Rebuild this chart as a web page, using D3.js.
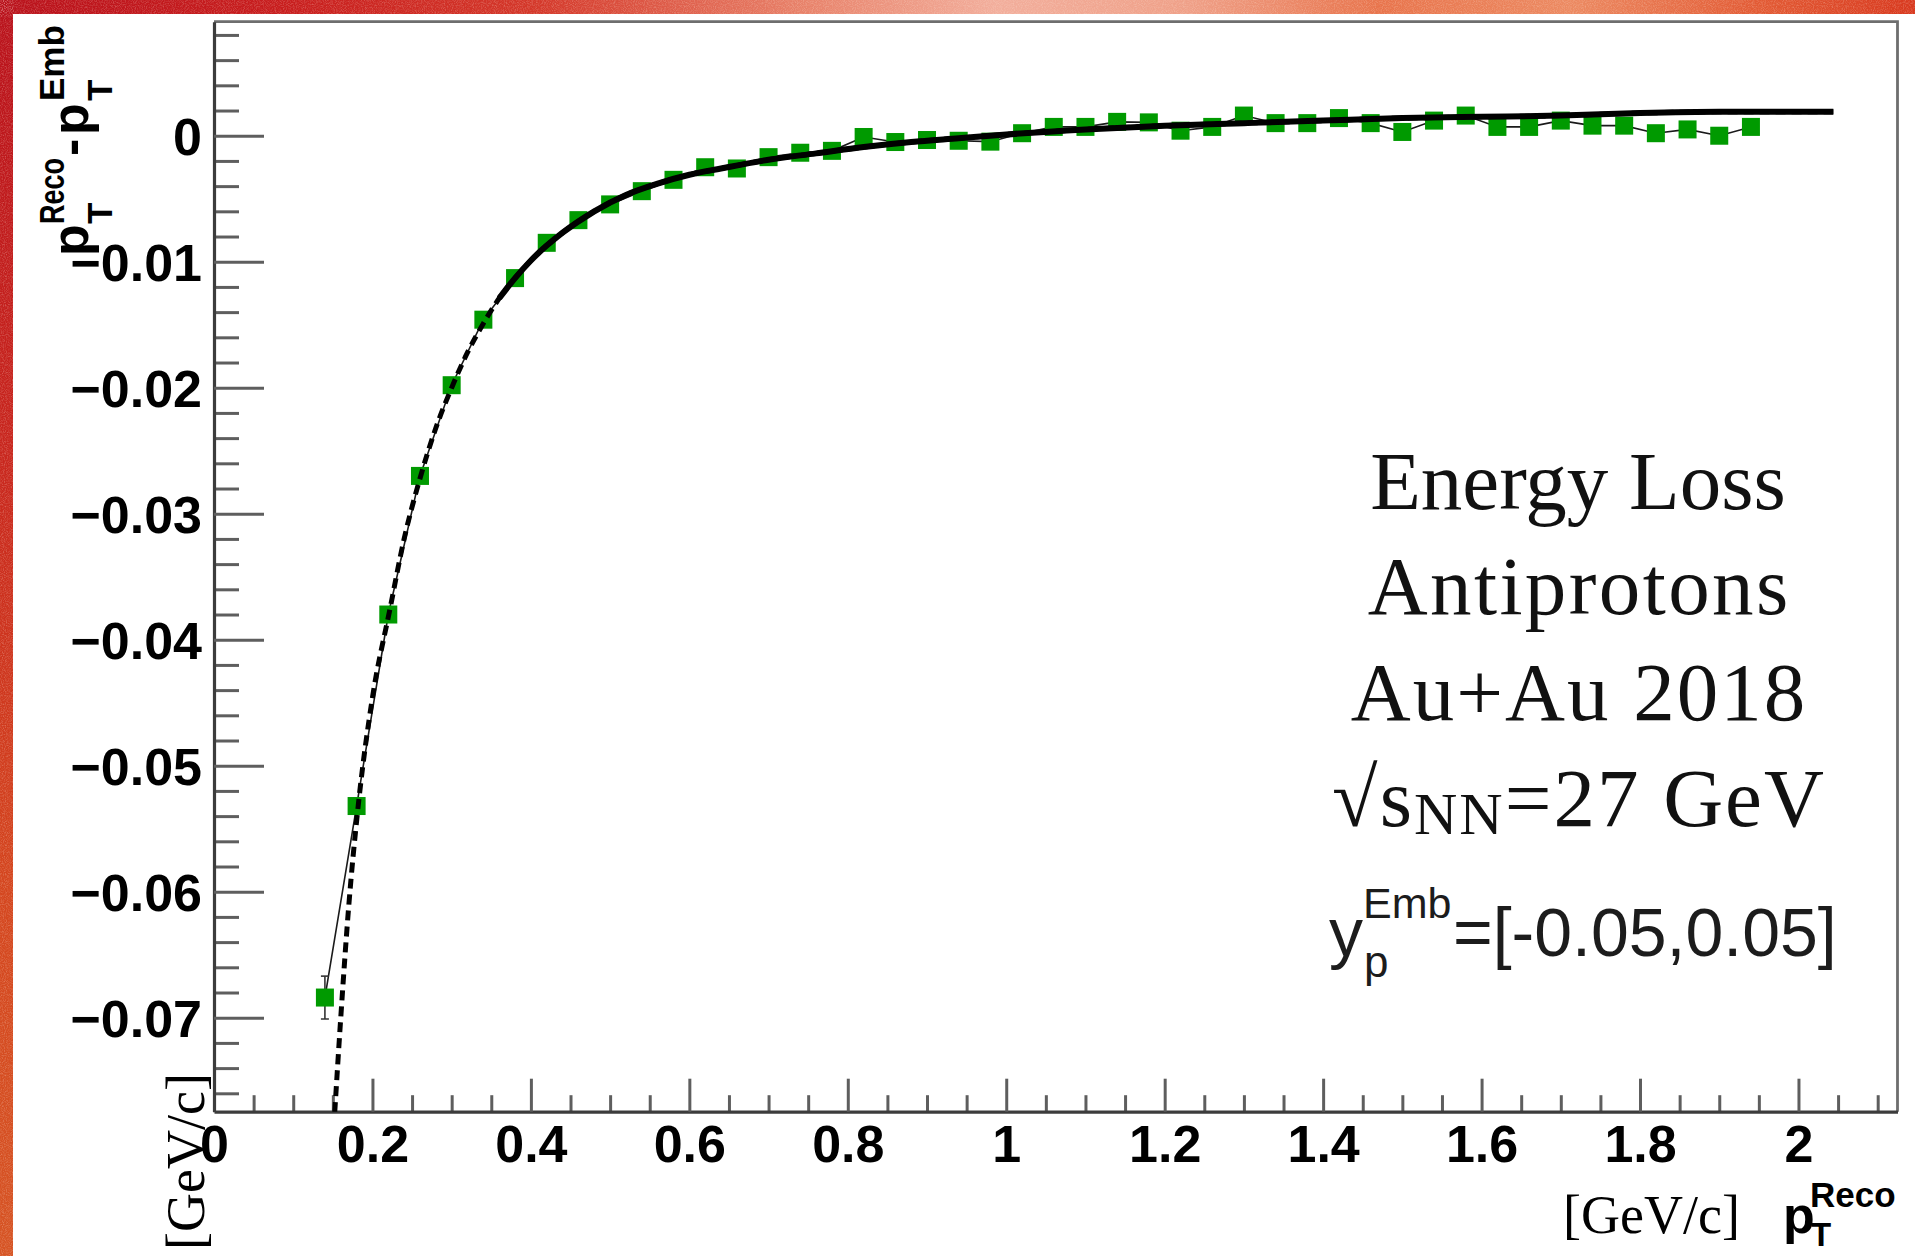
<!DOCTYPE html>
<html><head><meta charset="utf-8">
<script src="https://cdn.jsdelivr.net/npm/d3@7"></script>
<style>
html,body{margin:0;padding:0;background:#fff;}
svg{display:block;}
</style></head>
<body>
<svg id="chart" width="1915" height="1256"></svg>
<script>
// ---------------- data ----------------
const ptReco = [0.14,0.18,0.22,0.26,0.30,0.34,0.38,0.42,0.46,0.50,0.54,0.58,0.62,0.66,0.70,0.74,0.78,0.82,0.86,0.90,0.94,0.98,1.02,1.06,1.10,1.14,1.18,1.22,1.26,1.30,1.34,1.38,1.42,1.46,1.50,1.54,1.58,1.62,1.66,1.70,1.74,1.78,1.82,1.86,1.90,1.94];
const dPt = [-0.0684,-0.0532,-0.0380,-0.0270,-0.0198,-0.0146,-0.0113,-0.0085,-0.0067,-0.00545,-0.0044,-0.0035,-0.0025,-0.0026,-0.0017,-0.00135,-0.0012,-0.0001,-0.0005,-0.00034,-0.0004,-0.00047,0.0002,0.0007,0.0007,0.0011,0.00106,0.0004,0.0007,0.0016,0.0010,0.0010,0.0014,0.0010,0.0003,0.0012,0.0016,0.0007,0.0007,0.0012,0.0008,0.0008,0.0002,0.0005,0.0000,0.0007];
const dPtErr = [0.0017,0.0006,0.0005,0.0004,0.0003,0.0003,0.0003,0.0003,0.0002,0.0002,0.0002,0.0002,0.0002,0.0002,0.0002,0.0002,0.0002,0.0002,0.0002,0.0002,0.0002,0.0002,0.0002,0.0002,0.0002,0.0002,0.0002,0.0002,0.0002,0.0002,0.0002,0.0002,0.0002,0.0002,0.0002,0.0002,0.0002,0.0002,0.0002,0.0002,0.0002,0.0002,0.0003,0.0003,0.0003,0.0003];
// fit curve
const fitPt  = [0.1524,0.160,0.170,0.182,0.20,0.222,0.24,0.26,0.28,0.30,0.32,0.34,0.36,0.38,0.40,0.44,0.48,0.52,0.56,0.60,0.64,0.70,0.76,0.82,0.88,0.94,1.00,1.10,1.20,1.30,1.40,1.50,1.60,1.70,1.80,1.90,2.044];
const fitVal = [-0.0775,-0.0700,-0.0612,-0.0532,-0.0446,-0.0376,-0.0320,-0.0272,-0.0232,-0.0200,-0.0172,-0.0149,-0.0129,-0.0113,-0.0099,-0.0077,-0.0060,-0.0047,-0.0038,-0.0031,-0.0026,-0.0019,-0.0014,-0.0009,-0.0005,-0.0002,0.0001,0.0005,0.0008,0.0010,0.0012,0.0014,0.0015,0.0016,0.0018,0.0019,0.0019];
const fitSolidFrom = 0.36;
const xMajorTicks = [0,0.2,0.4,0.6,0.8,1,1.2,1.4,1.6,1.8,2];
const xTickLabels = ["0","0.2","0.4","0.6","0.8","1","1.2","1.4","1.6","1.8","2"];
const yMajorTicks = [0,-0.01,-0.02,-0.03,-0.04,-0.05,-0.06,-0.07];
const yTickLabels = ["0","\u22120.01","\u22120.02","\u22120.03","\u22120.04","\u22120.05","\u22120.06","\u22120.07"];
const infoLines = ["Energy Loss","Antiprotons","Au+Au 2018"];
const xDomain = [0, 2.125];
const yDomain = [-0.07746, 0.00905];

// ---------------- layout ----------------
const W = 1915, H = 1256;
const P = {left:214, right:1897.5, top:21.7, bottom:1111.7};
const svg = d3.select('#chart');
const x = d3.scaleLinear().domain(xDomain).range([P.left, P.right]);
const y = d3.scaleLinear().domain(yDomain).range([P.bottom, P.top]);

const defs = svg.append('defs');
const gTop = defs.append('linearGradient').attr('id','gTop').attr('x1',0).attr('x2',1).attr('y1',0).attr('y2',0);
[[0,'#b9121c'],[0.15,'#c81e1e'],[0.28,'#d4382a'],[0.42,'#e8826a'],[0.52,'#f2ae9c'],[0.62,'#efa088'],[0.72,'#e8744c'],[0.82,'#ec8a62'],[0.92,'#e25a34'],[1,'#d8391f']]
  .forEach(s=>gTop.append('stop').attr('offset',s[0]).attr('stop-color',s[1]));
const gLeft = defs.append('linearGradient').attr('id','gLeft').attr('x1',0).attr('x2',0).attr('y1',0).attr('y2',1);
[[0,'#b9121c'],[0.35,'#c8261e'],[0.7,'#d4461f'],[1,'#d65424']]
  .forEach(s=>gLeft.append('stop').attr('offset',s[0]).attr('stop-color',s[1]));
const f = defs.append('filter').attr('id','noise').attr('x',0).attr('y',0).attr('width','100%').attr('height','100%');
f.append('feTurbulence').attr('type','fractalNoise').attr('baseFrequency','0.9').attr('numOctaves',2).attr('seed',4);
f.append('feColorMatrix').attr('type','matrix').attr('values','0 0 0 0 1  0 0 0 0 0.85  0 0 0 0 0.75  0.6 0 0 0 -0.25');
defs.append('clipPath').attr('id','clip').append('rect')
  .attr('x',P.left).attr('y',P.top).attr('width',P.right-P.left).attr('height',P.bottom-P.top);

svg.append('rect').attr('width',W).attr('height',H).attr('fill','url(#gLeft)');
svg.append('rect').attr('width',W).attr('height',16).attr('fill','url(#gTop)');
svg.append('rect').attr('width',W).attr('height',16).attr('filter','url(#noise)');
svg.append('rect').attr('width',14).attr('height',H).attr('filter','url(#noise)');
svg.append('rect').attr('x',13).attr('y',14).attr('width',W-13).attr('height',H-14).attr('fill','#fff');

// frame
svg.append('path').attr('d',`M${P.left},${P.top}H${P.right}V${P.bottom}`)
  .attr('fill','none').attr('stroke','#6e6e6e').attr('stroke-width',2.8);

const tickColor = '#5e5e5e';
// minor ticks
const xMinor = d3.range(0,43).filter(k=>k%4!==0).map(k=>k*0.05);
const yMinor = d3.range(-38,5).filter(k=>k%5!==0).map(k=>k*0.002);
const gxm = svg.append('g').attr('transform',`translate(0,${P.bottom})`)
  .call(d3.axisBottom(x).tickValues(xMinor).tickSize(-16.5).tickSizeOuter(0).tickFormat(''));
const gym = svg.append('g').attr('transform',`translate(${P.left},0)`)
  .call(d3.axisLeft(y).tickValues(yMinor).tickSize(-25).tickSizeOuter(0).tickFormat(''));
[gxm,gym].forEach(g=>{g.select('.domain').remove(); g.selectAll('line').attr('stroke',tickColor).attr('stroke-width',3);});

// major axes
const gx = svg.append('g').attr('transform',`translate(0,${P.bottom})`)
  .call(d3.axisBottom(x).tickValues(xMajorTicks).tickSize(-33).tickSizeOuter(0).tickPadding(13)
  .tickFormat((d,i)=>xTickLabels[i]));
const gy = svg.append('g').attr('transform',`translate(${P.left},0)`)
  .call(d3.axisLeft(y).tickValues(yMajorTicks).tickSize(-50).tickSizeOuter(0).tickPadding(12)
  .tickFormat((d,i)=>yTickLabels[i]));
[gx,gy].forEach(g=>{
  g.select('.domain').attr('stroke','#3c3c3c').attr('stroke-width',3.2);
  g.selectAll('line').attr('stroke',tickColor).attr('stroke-width',3);
  g.selectAll('text').attr('fill','#000').style('font-family','"Liberation Sans", Arial, sans-serif')
   .style('font-weight','bold').style('font-size','52px');
});
gy.selectAll('text').attr('dy','0.36em');

// data
const pts = ptReco.map((v,i)=>({x:v, y:dPt[i], e:dPtErr[i]}));
const plot = svg.append('g').attr('clip-path','url(#clip)');
plot.append('path').datum(pts)
  .attr('d', d3.line().x(d=>x(d.x)).y(d=>y(d.y)))
  .attr('fill','none').attr('stroke','#1a1a1a').attr('stroke-width',1.6);
const eb = plot.append('g').attr('stroke','#333').attr('stroke-width',1.6);
pts.forEach(d=>{
  eb.append('line').attr('x1',x(d.x)).attr('x2',x(d.x)).attr('y1',y(d.y-d.e)).attr('y2',y(d.y+d.e));
  eb.append('line').attr('x1',x(d.x)-4).attr('x2',x(d.x)+4).attr('y1',y(d.y-d.e)).attr('y2',y(d.y-d.e));
  eb.append('line').attr('x1',x(d.x)-4).attr('x2',x(d.x)+4).attr('y1',y(d.y+d.e)).attr('y2',y(d.y+d.e));
});
const ms = 18;
plot.append('g').selectAll('rect').data(pts).join('rect')
  .attr('x',d=>x(d.x)-ms/2).attr('y',d=>y(d.y)-ms/2).attr('width',ms).attr('height',ms)
  .attr('fill','#009a00');

// fit
const fit = fitPt.map((v,i)=>({x:v, y:fitVal[i]}));
const fitLine = d3.line().x(d=>x(d.x)).y(d=>y(d.y)).curve(d3.curveMonotoneX);
plot.append('path').datum(fit).attr('d',fitLine)
  .attr('fill','none').attr('stroke','#000').attr('stroke-width',5).attr('stroke-dasharray','10,6');
plot.append('path').datum(fit.filter(d=>d.x>=fitSolidFrom)).attr('d',fitLine)
  .attr('fill','none').attr('stroke','#000').attr('stroke-width',6).attr('stroke-linecap','butt');

// ---------------- texts ----------------
const sans = '"Liberation Sans", Arial, Helvetica, sans-serif';
const serif = '"Liberation Serif", "Times New Roman", serif';

// y title (rotated)
const yt = svg.append('g').attr('transform','translate(88,256) rotate(-90)')
  .style('font-family',sans).style('font-weight','bold').attr('fill','#000');
yt.append('text').attr('x',0).attr('y',0).style('font-size','52px').text('p');
yt.append('text').attr('x',32).attr('y',24).style('font-size','35px').text('T');
yt.append('text').attr('x',32).attr('y',-24).style('font-size','35px').attr('textLength',66).attr('lengthAdjust','spacingAndGlyphs').text('Reco');
yt.append('text').attr('x',100).attr('y',0).style('font-size','52px').text('-');
yt.append('text').attr('x',121).attr('y',0).style('font-size','52px').text('p');
yt.append('text').attr('x',155).attr('y',24).style('font-size','35px').text('T');
yt.append('text').attr('x',155).attr('y',-24).style('font-size','35px').text('Emb');

// y unit
svg.append('text').attr('transform','translate(204,1250) rotate(-90)')
  .style('font-family',serif).style('font-size','54px').attr('fill','#000').text('[GeV/c]');

// x title
const xt = svg.append('g').style('font-family',sans).style('font-weight','bold').attr('fill','#000');
xt.append('text').attr('x',1783).attr('y',1233).style('font-size','52px').text('p');
xt.append('text').attr('x',1811).attr('y',1246).style('font-size','33px').text('T');
xt.append('text').attr('x',1810).attr('y',1207).style('font-size','35px').text('Reco');
svg.append('text').attr('x',1563).attr('y',1233).style('font-family',serif).style('font-size','54px')
  .attr('fill','#000').text('[GeV/c]');

// info block
const cx = 1578;
const baseY = [509, 614, 720];
const spacing = [0, 2.4, 2];
infoLines.forEach((t,i)=>{
  svg.append('text').attr('x',cx + spacing[i]/2).attr('y',baseY[i]).attr('text-anchor','middle')
    .style('font-family',serif).style('font-size','83px').style('letter-spacing',spacing[i]+'px')
    .attr('fill','#111').text(t);
});
const sq = svg.append('text').attr('x',cx+1).attr('y',826).attr('text-anchor','middle')
  .style('font-family',serif).style('font-size','83px').style('letter-spacing','2px').attr('fill','#111');
sq.append('tspan').text('\u221As');
sq.append('tspan').attr('dy',8).style('font-size','60px').text('NN');
sq.append('tspan').attr('dy',-8).text('=27 GeV');

const yl = svg.append('g').style('font-family',sans).attr('fill','#1c1c1c');
yl.append('text').attr('x',1329).attr('y',956).style('font-size','68px').text('y');
yl.append('text').attr('x',1364).attr('y',977).style('font-size','44px').text('p');
yl.append('text').attr('x',1363).attr('y',918).style('font-size','43px').text('Emb');
yl.append('text').attr('x',1453).attr('y',956).style('font-size','68px').text('=[-0.05,0.05]');
</script>
</body></html>
